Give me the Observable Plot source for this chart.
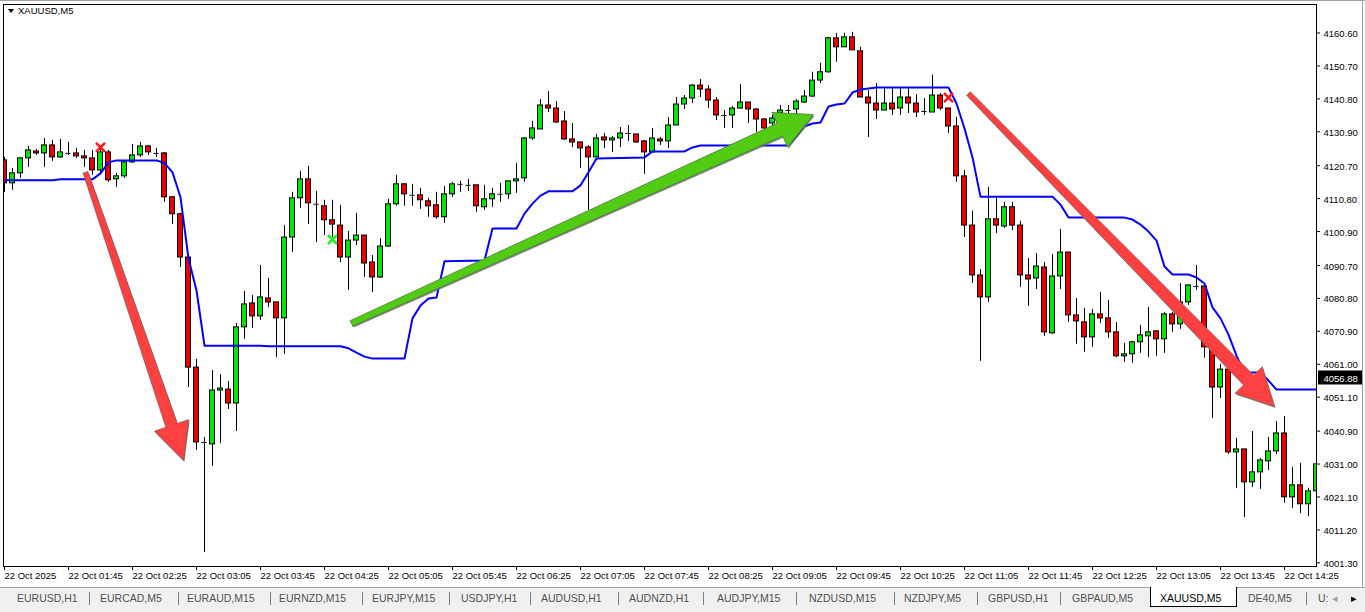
<!DOCTYPE html>
<html><head><meta charset="utf-8">
<script src="https://cdn.jsdelivr.net/npm/d3@7"></script>
<script src="https://cdn.jsdelivr.net/npm/@observablehq/plot@0.6"></script>
<style>
html,body{margin:0;padding:0;background:#fff;}
body{width:1365px;height:612px;overflow:hidden;position:relative;font-family:"Liberation Sans",Arial,sans-serif;}
#chart{position:absolute;left:0;top:0;}
#topline{position:absolute;left:0;top:0;width:1365px;height:1px;background:#a0a0a0;}
#rightline{position:absolute;left:1362px;top:0;width:1px;height:587px;background:#a0a0a0;}
#hdr{position:absolute;left:8px;top:5px;font-size:9.5px;color:#000;white-space:nowrap;}
#hdr .tri{display:inline-block;width:0;height:0;border-left:3.5px solid transparent;border-right:3.5px solid transparent;border-top:4px solid #000;margin-right:4px;vertical-align:1px;}
#tabs{position:absolute;left:0;top:587px;width:1365px;height:25px;background:#f0f0f0;border-top:1px solid #a0a0a0;box-sizing:border-box;}
.tab{position:absolute;top:4px;font-size:10.5px;color:#505050;white-space:nowrap;}
.div{position:absolute;top:4px;width:1px;height:13px;background:#808080;}
#active{position:absolute;left:1150px;top:-1px;width:87px;height:20px;background:#fff;border-left:1px solid #000;border-right:1px solid #000;border-bottom:1px solid #000;box-sizing:border-box;}
</style></head><body>
<div id="chart"></div>
<div id="topline"></div>
<div id="rightline"></div>
<div id="hdr"><span class="tri"></span>XAUUSD,M5</div>
<div id="tabs"></div>
<script>
// ---------- data ----------
const openP = [4122.3,4115.4,4118.4,4122.9,4125.0,4124.4,4126.8,4123.2,4124.4,4124.4,4123.5,4122.9,4119.3,4124.7,4116.6,4117.5,4121.7,4123.8,4126.5,4124.4,
4124.4,4111.2,4106.1,4093.1,4060.0,4037.5,4036.9,4053.1,4053.4,4049.2,4072.1,4079.3,4075.4,4080.8,4079.6,4074.8,4099.1,4110.9,4116.6,4109.1,
4108.5,4104.3,4102.7,4093.1,4098.2,4099.7,4091.6,4087.1,4096.4,4109.1,4115.1,4111.8,4111.8,4110.0,4108.8,4105.2,4112.1,4115.1,4114.8,4114.8,
4108.2,4110.6,4112.1,4112.1,4116.0,4116.9,4128.9,4131.6,4138.8,4137.9,4134.0,4128.6,4127.7,4126.2,4123.2,4129.2,4128.3,4128.9,4130.4,4130.1,
4128.0,4124.7,4128.6,4128.0,4132.8,4139.1,4140.9,4144.8,4143.6,4140.3,4135.8,4135.8,4137.9,4139.7,4137.6,4134.6,4133.4,4136.4,4137.3,4137.6,
4139.7,4141.5,4146.3,4148.8,4159.0,4156.3,4159.3,4155.1,4141.2,4139.4,4137.3,4139.4,4137.9,4141.2,4139.4,4137.0,4136.7,4141.8,4137.9,4132.5,
4117.5,4102.7,4087.7,4081.1,4104.6,4102.4,4108.2,4102.7,4087.7,4086.8,4090.1,4070.3,4087.4,4094.6,4075.7,4073.6,4069.1,4076.0,4074.8,4070.6,
4063.4,4064.0,4067.6,4069.4,4070.9,4068.5,4076.0,4073.0,4079.6,4084.4,4084.4,4066.1,4054.0,4059.4,4034.5,4035.4,4025.5,4028.5,4031.8,4034.8,
4040.2,4021.0,4024.6,4018.9,4022.8];
const highP = [4123.2,4119.9,4123.2,4126.5,4125.6,4128.9,4128.3,4128.6,4127.7,4125.9,4125.3,4125.3,4125.6,4125.3,4118.4,4122.0,4127.1,4127.7,4126.8,4125.9,
4124.7,4111.5,4106.4,4093.4,4062.5,4039.0,4059.1,4057.9,4055.8,4073.3,4082.9,4081.7,4090.7,4086.8,4079.6,4102.7,4112.7,4119.0,4120.5,4113.0,
4110.3,4110.3,4108.8,4100.9,4106.4,4099.7,4093.7,4098.8,4110.6,4117.8,4115.4,4115.1,4113.9,4110.9,4112.7,4114.5,4115.7,4116.0,4116.6,4114.8,
4114.8,4113.9,4115.4,4116.0,4121.4,4129.2,4134.0,4140.6,4143.0,4140.0,4137.0,4133.4,4127.7,4126.8,4130.1,4130.4,4129.5,4132.2,4132.8,4130.1,
4128.3,4131.9,4129.2,4135.2,4141.2,4141.8,4145.1,4146.6,4144.8,4141.2,4137.3,4138.5,4145.1,4139.7,4137.9,4134.9,4135.8,4138.8,4138.8,4140.6,
4143.3,4148.8,4151.5,4159.3,4160.5,4160.5,4160.8,4156.3,4143.3,4145.4,4144.2,4143.9,4143.9,4143.9,4142.1,4140.9,4147.9,4142.4,4137.9,4135.2,
4119.3,4107.0,4089.5,4114.2,4111.2,4109.7,4109.7,4104.0,4092.8,4094.3,4091.6,4094.0,4101.5,4094.6,4080.8,4077.8,4077.5,4082.6,4080.2,4073.6,
4067.3,4067.9,4072.7,4078.1,4070.9,4076.6,4076.6,4085.3,4085.0,4090.7,4084.4,4066.1,4061.0,4059.4,4038.7,4035.4,4040.8,4032.7,4039.0,4043.8,
4045.3,4030.0,4031.2,4023.7,4033.6];
const lowP = [4112.7,4113.3,4116.9,4120.2,4123.8,4120.2,4122.0,4122.9,4123.8,4122.9,4120.2,4117.8,4118.4,4115.7,4114.2,4116.9,4121.4,4123.2,4123.8,4123.2,
4109.7,4103.0,4090.1,4054.0,4035.1,4004.4,4030.3,4037.2,4047.4,4040.8,4068.5,4071.8,4074.2,4078.1,4063.0,4064.0,4094.6,4107.9,4103.0,4097.6,
4099.7,4099.1,4091.6,4083.2,4096.7,4087.1,4082.6,4086.8,4096.1,4108.5,4108.5,4108.5,4107.6,4105.2,4104.6,4103.3,4111.2,4112.7,4113.0,4106.7,
4107.3,4108.2,4109.7,4110.6,4112.4,4115.7,4128.3,4131.6,4136.7,4133.4,4128.3,4126.2,4119.9,4107.3,4123.2,4125.9,4124.7,4126.2,4128.0,4127.4,
4118.1,4124.7,4126.8,4125.9,4132.8,4137.6,4139.4,4141.2,4137.9,4134.3,4131.9,4131.9,4137.6,4133.4,4130.7,4130.7,4131.9,4135.8,4135.8,4135.8,
4139.4,4141.2,4145.4,4148.5,4151.8,4156.3,4155.4,4141.2,4129.2,4134.6,4137.3,4135.8,4135.8,4136.4,4135.2,4135.8,4136.7,4137.3,4130.4,4115.7,
4099.1,4085.3,4061.9,4079.6,4100.3,4101.8,4101.2,4084.1,4078.4,4083.5,4069.4,4070.0,4083.5,4073.6,4067.0,4064.6,4066.1,4073.3,4068.8,4063.0,
4061.6,4061.3,4064.3,4063.0,4063.4,4064.3,4070.6,4071.5,4078.7,4083.2,4062.8,4044.7,4050.7,4033.9,4023.7,4014.9,4024.0,4023.4,4029.1,4033.9,
4019.2,4017.6,4016.1,4015.2,4022.5];
const closeP = [4115.4,4118.4,4122.9,4125.3,4124.4,4126.8,4123.2,4124.7,4124.4,4123.5,4122.9,4119.3,4124.7,4116.3,4117.5,4121.7,4123.8,4126.5,4124.7,4124.4,
4111.2,4106.1,4093.1,4060.0,4037.5,4037.5,4053.1,4053.7,4049.2,4072.1,4079.0,4075.4,4081.1,4079.6,4074.8,4099.1,4110.9,4116.6,4109.4,4109.1,
4104.3,4103.0,4093.1,4098.2,4099.7,4091.3,4087.1,4096.4,4109.1,4115.1,4112.1,4111.8,4110.3,4108.5,4105.2,4112.1,4115.1,4115.1,4114.8,4108.5,
4110.6,4112.1,4112.1,4116.0,4116.6,4128.9,4131.9,4138.8,4137.9,4133.7,4128.6,4127.7,4125.9,4123.2,4128.9,4128.3,4128.9,4130.4,4130.4,4127.7,
4124.7,4128.9,4128.0,4132.8,4139.1,4140.9,4144.8,4143.6,4140.3,4135.8,4135.8,4137.9,4139.7,4137.6,4134.6,4131.9,4134.9,4137.3,4137.3,4140.0,
4141.5,4146.3,4148.8,4159.0,4156.3,4159.3,4155.4,4141.2,4139.4,4137.3,4139.4,4137.6,4141.2,4139.4,4136.7,4137.0,4141.8,4137.9,4132.5,4117.5,
4102.7,4087.7,4081.1,4104.6,4102.7,4108.2,4102.7,4087.7,4086.5,4090.4,4070.6,4087.4,4094.6,4075.7,4073.9,4069.1,4076.0,4074.8,4070.6,4063.4,
4064.0,4067.6,4069.7,4070.6,4068.5,4076.0,4073.0,4079.6,4084.7,4084.4,4066.1,4054.0,4059.4,4034.5,4035.4,4025.5,4028.5,4032.1,4034.8,4040.2,
4021.0,4024.6,4018.9,4022.8,4030.9];

// trailing indicator (bar index, price)
const stBar   = [0,6,7,11,12,13,14,19,20,21,22,23,24,25,32,33,42,43,44,45,46,50,51,52,53,54,55,60,61,64,65,66,67,68,71,72,73,74,80,81,85,86,87,98,99,100,101,102,103,104,105,106,107,108,109,118,119,120,121,122,131,132,133,140,141,142,143,144,145,146,148,149,150,151,152,153,154,155,157,158,159,164];
const stPrice = [4116.3,4116.3,4116.6,4116.6,4118.4,4121.7,4122.3,4122.3,4121.5,4118.7,4111.2,4092.8,4083.2,4066.6,4066.6,4066.4,4066.4,4065.8,4064.5,4063.3,4062.7,4062.7,4074.8,4078.7,4080.8,4081.1,4092.0,4092.2,4101.8,4101.8,4106.3,4109.3,4111.7,4113.0,4113.0,4114.8,4118.7,4122.9,4123.2,4125.0,4125.0,4126.2,4126.8,4126.8,4129.5,4132.5,4133.4,4133.7,4138.5,4139.1,4139.4,4142.7,4143.6,4143.9,4144.2,4144.2,4139.4,4131.9,4123.2,4111.4,4111.4,4109.0,4105.1,4105.1,4104.5,4103.0,4100.9,4098.2,4090.4,4088.0,4088.0,4087.1,4085.3,4078.1,4074.8,4069.9,4063.6,4058.5,4058.5,4056.1,4053.4,4053.4];

// signal markers
const markBar   = [12, 41, 118];
const markPrice = [4126.2, 4098.5, 4141.2];
const markColor = ["#ff1a1a", "#22ee22", "#ff1a1a"];

// drawn arrows: tail / tip (bar, price)
const arrowTailBar   = [10.125, 43.375, 120.5];
const arrowTailPrice = [4118.7, 4073.3, 4142.4];
const arrowTipBar    = [22.375, 101.125, 158.75];
const arrowTipPrice  = [4032.1, 4136.1, 4048.3];
const arrowFill      = ["#ff4040", "#52cc12", "#ff4040"];
const arrowEdge      = ["#8a5a5a", "#4a7a3a", "#8a5a5a"];

const timeLabels = ["22 Oct 2025","22 Oct 01:45","22 Oct 02:25","22 Oct 03:05","22 Oct 03:45","22 Oct 04:25","22 Oct 05:05","22 Oct 05:45","22 Oct 06:25","22 Oct 07:05","22 Oct 07:45","22 Oct 08:25","22 Oct 09:05","22 Oct 09:45","22 Oct 10:25","22 Oct 11:05","22 Oct 11:45","22 Oct 12:25","22 Oct 13:05","22 Oct 13:45","22 Oct 14:25"];
const barsPerLabel = 8;
const priceTicks = [4160.60,4150.70,4140.80,4130.90,4120.70,4110.80,4100.90,4090.70,4080.80,4070.90,4061.00,4051.10,4040.90,4031.00,4021.10,4011.20,4001.30];
const currentPrice = [4056.88];

const tabNames = ["EURUSD,H1","EURCAD,M5","EURAUD,M15","EURNZD,M15","EURJPY,M15","USDJPY,H1","AUDUSD,H1","AUDNZD,H1","AUDJPY,M15","NZDUSD,M15","NZDJPY,M5","GBPUSD,H1","GBPAUD,M5","XAUUSD,M5","DE40,M5","U:"];
const activeTab = "XAUUSD,M5";

// ---------- layout ----------
const W = 1365, H = 590;
const mL = 3, mR = 49, mT = 4, mB = 24;
const xDomain = [-0.125, 164];
const yDomain = [4000.2, 4169.17];

const idx = d3.range(openP.length);
const bull = idx.filter(i => closeP[i] > openP[i]);
const bear = idx.filter(i => closeP[i] < openP[i]);
const doji = idx.filter(i => closeP[i] === openP[i]);
const half = 0.3125;

// scales identical to the chart's for building arrow polygons
const sx = Plot.scale({x: {type: "linear", domain: xDomain, range: [mL, W - mR]}});
const sy = Plot.scale({y: {type: "linear", domain: yDomain, range: [H - mB, mT]}});
function arrowPoly(k, w0, w1, headLen, headHalf) {
  const tx = sx.apply(arrowTailBar[k]), ty = sy.apply(arrowTailPrice[k]);
  const px = sx.apply(arrowTipBar[k]), py = sy.apply(arrowTipPrice[k]);
  const dx = px - tx, dy = py - ty, L = Math.hypot(dx, dy);
  const ux = dx / L, uy = dy / L, nx = -uy, ny = ux;
  const bx = px - ux * headLen, by = py - uy * headLen;
  const pts = [
    [tx + nx * w0 / 2, ty + ny * w0 / 2],
    [bx + nx * w1 / 2, by + ny * w1 / 2],
    [bx + nx * headHalf, by + ny * headHalf],
    [px, py],
    [bx - nx * headHalf, by - ny * headHalf],
    [bx - nx * w1 / 2, by - ny * w1 / 2],
    [tx - nx * w0 / 2, ty - ny * w0 / 2]
  ];
  pts.push(pts[0]);
  return pts.map(([x, y]) => ({x: sx.invert(x), y: sy.invert(y)}));
}
const arrowSpecs = [[5, 12, 37, 18], [6, 14, 37, 19], [5, 14, 37, 19]];
const arrowMarks = arrowSpecs.flatMap((s, k) => {
  const poly = arrowPoly(k, ...s);
  const shadow = poly.map(p => ({x: sx.invert(sx.apply(p.x) + 1), y: sy.invert(sy.apply(p.y) + 1.5)}));
  return [
    Plot.line(shadow, {x: "x", y: "y", fill: "#6a6a6a", stroke: "none", fillOpacity: 0.8}),
    Plot.line(poly, {x: "x", y: "y", fill: arrowFill[k], stroke: arrowEdge[k], strokeWidth: 0.8})
  ];
});

const tickBars = timeLabels.map((_, k) => k * barsPerLabel);

const chart = Plot.plot({
  width: W, height: H,
  marginLeft: mL, marginRight: mR, marginTop: mT, marginBottom: mB,
  x: {type: "linear", domain: xDomain, axis: null},
  y: {type: "linear", domain: yDomain, axis: null},
  style: {fontFamily: "'Liberation Sans', Arial, sans-serif", fontSize: "9.5px", background: "transparent", color: "black", overflow: "visible"},
  marks: [
    // candles
    Plot.ruleX(idx, {x: i => i, y1: i => lowP[i], y2: i => highP[i], stroke: "black", strokeWidth: 1, clip: true}),
    Plot.rect(bull, {x1: i => i - half, x2: i => i + half, y1: i => openP[i], y2: i => closeP[i], fill: "#00e600", stroke: "black", strokeWidth: 1, clip: true}),
    Plot.rect(bear, {x1: i => i - half, x2: i => i + half, y1: i => openP[i], y2: i => closeP[i], fill: "#ee0000", stroke: "black", strokeWidth: 1, clip: true}),
    Plot.ruleY(doji, {y: i => openP[i], x1: i => i - half, x2: i => i + half, stroke: "black", strokeWidth: 1}),
    // indicator line
    Plot.line(stBar, {x: d => d, y: (d, k) => stPrice[k], stroke: "#0000ff", strokeWidth: 2, clip: true}),
    // arrows
    ...arrowMarks,
    // markers
    Plot.dot(markBar, {x: d => d, y: (d, k) => markPrice[k], symbol: "times", r: 4.2, stroke: (d, k) => markColor[k], strokeWidth: 2.6}),
    // frame
    Plot.frame({stroke: "black"}),
    // x ticks + labels
    Plot.ruleX(tickBars, {x: d => d, insetTop: 562, insetBottom: -4, stroke: "black"}),
    Plot.text(timeLabels, {x: (d, k) => k * barsPerLabel, y: () => yDomain[0], text: d => d, textAnchor: "start", dy: 9, dx: 0, fill: "black"}),
    // y ticks + labels
    Plot.ruleY(priceTicks, {y: d => d, insetLeft: 1313, insetRight: -4, stroke: "black"}),
    Plot.text(priceTicks, {x: () => xDomain[1], y: d => d, text: d => d.toFixed(2), textAnchor: "start", dx: 7, dy: 1, fill: "black"}),
    // current price label
    Plot.rect(currentPrice, {x1: () => xDomain[1], x2: () => xDomain[1], y1: d => d, y2: d => d, insetLeft: 2, insetRight: -46, insetTop: -7, insetBottom: -7, fill: "black"}),
    Plot.text(currentPrice, {x: () => xDomain[1], y: d => d, text: d => d.toFixed(2), textAnchor: "start", dx: 7, dy: 1, fill: "white"})
  ]
});
document.getElementById("chart").appendChild(chart);

// ---------- tab bar ----------
const tabLeft = [17,100,187,279,372,461,541,629,717,809,904,988,1072,1160,1248,1318];
const dividers = [89,178,270,362,449,530,618,703,796,894,977,1060,1306];
const tabs = document.getElementById("tabs");
const act = document.createElement("div"); act.id = "active"; tabs.appendChild(act);
tabNames.forEach((t, k) => {
  const s = document.createElement("span");
  s.className = "tab"; s.textContent = t; s.style.left = tabLeft[k] + "px";
  if (t === activeTab) s.style.color = "#000";
  tabs.appendChild(s);
});
dividers.forEach(x => { const d = document.createElement("div"); d.className = "div"; d.style.left = x + "px"; tabs.appendChild(d); });
const la = document.createElement("span"); la.className = "tab"; la.textContent = "◂"; la.style.left = "1332px"; la.style.color = "#a0a0a0"; tabs.appendChild(la);
const ra = document.createElement("span"); ra.className = "tab"; ra.textContent = "▸"; ra.style.left = "1351px"; ra.style.color = "#000"; tabs.appendChild(ra);
</script>
</body></html>
